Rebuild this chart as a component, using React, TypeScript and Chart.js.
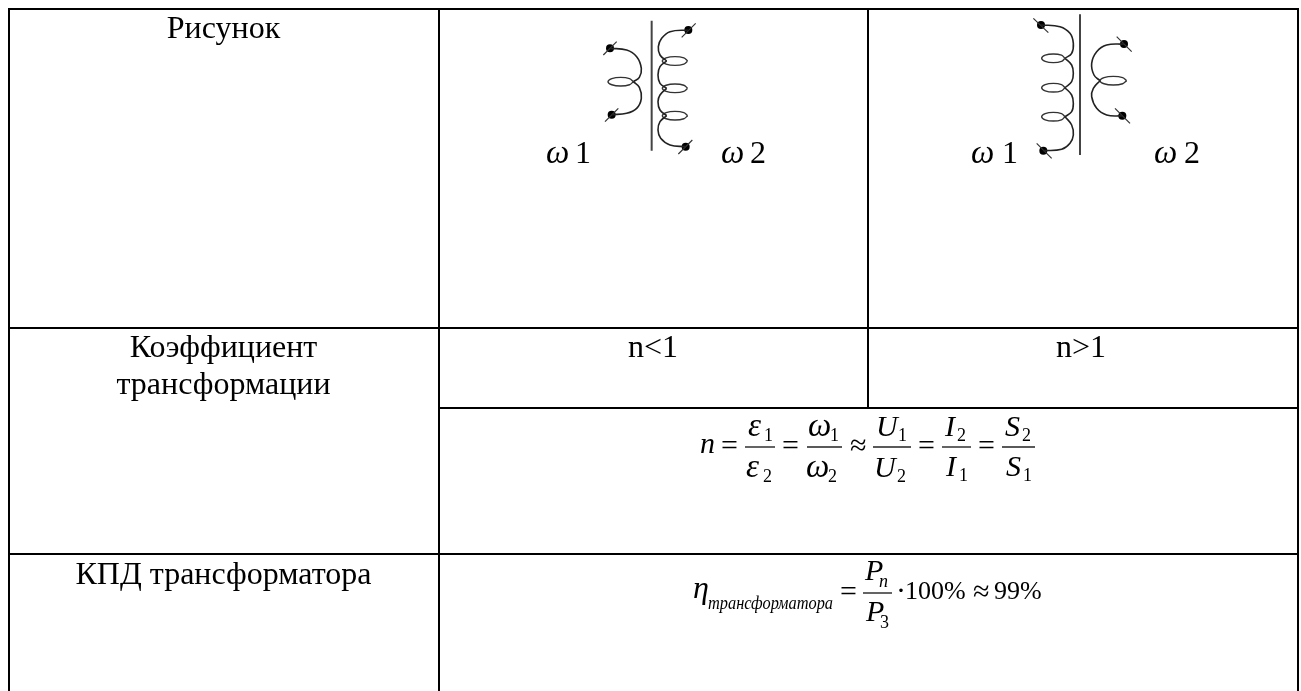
import React, { useEffect, useRef } from "react";
import { Chart, registerables } from "chart.js";

Chart.register(...registerables);

// ---- table rules, in sheet units -------------------------------------
const tableRules: number[][] = [
  [8, 9, 1299, 9],
  [8, 328, 1299, 328],
  [439, 408, 1299, 408],
  [8, 554, 1299, 554],
  [9, 8, 9, 691],
  [439, 9, 439, 691],
  [868, 9, 868, 408],
  [1298, 8, 1298, 691],
];
const fractionRules: number[][] = [
  [745, 447, 775, 447],
  [807, 447, 842, 447],
  [873, 447, 911, 447],
  [942, 447, 971, 447],
  [1002, 447, 1035, 447],
  [863, 593, 892, 593],
];

const windingAOrigin = [440, 0];
const windingBOrigin = [870, 0];
const coreA = [[635, 62], [635, 452]];
const coreB = [[630, 43], [630, 465]];
const arcsA = [
  [[510, 145], [560, 150], [590, 170], [604, 205], [598, 232], [580, 245]],
  [[580, 245], [598, 262], [604, 295], [590, 325], [560, 340], [515, 344]],
  [[745, 90], [690, 95], [665, 115], [655, 140], [660, 165], [680, 183]],
  [[680, 183], [660, 200], [654, 225], [660, 250], [680, 265]],
  [[680, 265], [660, 285], [654, 305], [660, 330], [680, 347]],
  [[680, 347], [660, 365], [654, 390], [662, 415], [690, 435], [737, 440]],
];
const arcsB = [
  [[513, 75], [570, 80], [600, 100], [610, 130], [605, 160], [585, 175]],
  [[585, 175], [605, 195], [610, 220], [605, 245], [585, 263]],
  [[585, 263], [605, 285], [610, 310], [605, 335], [585, 350]],
  [[585, 350], [605, 375], [610, 405], [600, 430], [575, 448], [520, 452]],
  [[762, 132], [710, 135], [680, 155], [665, 190], [672, 225], [690, 242]],
  [[690, 242], [670, 265], [665, 290], [680, 325], [710, 345], [757, 348]],
];
const loopCentresA = [[542, 245, 38], [705, 183, 38], [705, 265, 38], [705, 347, 38]];
const loopCentresB = [[550, 175, 35], [550, 263, 35], [550, 350, 35], [730, 242, 40]];
const loopShape = [[1, 0], [0.7, 0.72], [0, 1], [-0.7, 0.72], [-1, 0], [-0.7, -0.72], [0, -1], [0.7, -0.72], [1, 0]];
const terminalsA = [[510, 145], [515, 344], [745, 90], [737, 440]];
const terminalsB = [[513, 75], [520, 452], [762, 132], [757, 347]];
const leadsA = [[[490, 165], [530, 125]], [[495, 365], [535, 325]], [[725, 112], [767, 70]], [[715, 462], [757, 420]]];
const leadsB = [[[490, 55], [535, 98]], [[500, 430], [545, 475]], [[740, 110], [785, 155]], [[735, 325], [780, 370]]];

// ---- texts -------------------------------------------------------------
const SERIF = '"Liberation Serif", serif';
const F = `30px ${SERIF}`;
const FI = `italic 30px ${SERIF}`;
const SUB = `18px ${SERIF}`;
const W = `italic 33px ${SERIF}`;
const texts: [string, number, number, string, CanvasTextAlign?][] = [
  ["Рисунок", 223.5, 38, `32px ${SERIF}`, "center"],
  ["Коэффициент", 223.5, 357, `32px ${SERIF}`, "center"],
  ["трансформации", 223.5, 394, `32px ${SERIF}`, "center"],
  ["КПД трансформатора", 223.5, 584, `32px ${SERIF}`, "center"],
  ["n<1", 653, 357, `32px ${SERIF}`, "center"],
  ["n>1", 1081, 357, `32px ${SERIF}`, "center"],
  ["ω", 546, 163, W],
  ["1", 575, 163, `32px ${SERIF}`],
  ["ω", 721, 163, W],
  ["2", 750, 163, `32px ${SERIF}`],
  ["ω", 971, 163, W],
  ["1", 1002, 163, `32px ${SERIF}`],
  ["ω", 1154, 163, W],
  ["2", 1184, 163, `32px ${SERIF}`],
  ["n", 700, 453, FI],
  ["=", 721, 455, F],
  ["ε", 748, 436, W],
  ["1", 764, 441, SUB],
  ["ε", 746, 477, W],
  ["2", 763, 482, SUB],
  ["=", 782, 455, F],
  ["ω", 808, 436, W],
  ["1", 830, 441, SUB],
  ["ω", 806, 477, W],
  ["2", 828, 482, SUB],
  ["≈", 850, 455, F],
  ["U", 876, 436, FI],
  ["1", 898, 441, SUB],
  ["U", 874, 477, FI],
  ["2", 897, 482, SUB],
  ["=", 918, 455, F],
  ["I", 945, 436, FI],
  ["2", 957, 441, SUB],
  ["I", 946, 476, FI],
  ["1", 959, 481, SUB],
  ["=", 978, 455, F],
  ["S", 1005, 436, FI],
  ["2", 1022, 441, SUB],
  ["S", 1006, 476, FI],
  ["1", 1023, 481, SUB],
  ["η", 693, 598, `italic 32px ${SERIF}`],
  ["трансформатора", 708, 609, `italic 18px ${SERIF}`],
  ["=", 840, 601, F],
  ["P", 865, 580, FI],
  ["n", 879, 587, `italic 18px ${SERIF}`],
  ["P", 866, 621, FI],
  ["3", 880, 628, SUB],
  ["·", 896, 600, F],
  ["100%", 905, 599, `26px ${SERIF}`],
  ["≈", 973, 601, F],
  ["99%", 994, 599, `26px ${SERIF}`],
];
const subscriptWidth = 125;

const pt = (o: number[], p: number[]) => ({ x: o[0] + p[0] / 3, y: o[1] + p[1] / 3 });

function curveSets() {
  const sets: any[] = [];
  const addLine = (pts: { x: number; y: number }[], width: number, tension: number, color = "#111") =>
    sets.push({ data: pts, showLine: true, borderColor: color, borderWidth: width, tension, pointRadius: 0, fill: false });
  tableRules.forEach((r) => addLine([{ x: r[0], y: r[1] }, { x: r[2], y: r[3] }], 2, 0, "#000"));
  fractionRules.forEach((r) => addLine([{ x: r[0], y: r[1] }, { x: r[2], y: r[3] }], 1.4, 0, "#222"));
  ([[windingAOrigin, coreA, arcsA, loopCentresA, terminalsA, leadsA], [windingBOrigin, coreB, arcsB, loopCentresB, terminalsB, leadsB]] as any[]).forEach(
    ([o, core, arcs, loops, terminals, leads]) => {
      addLine(core.map((p: number[]) => pt(o, p)), 2, 0, "#444");
      arcs.forEach((a: number[][]) => addLine(a.map((p) => pt(o, p)), 1.6, 0.4, "#222"));
      loops.forEach((c: number[]) =>
        addLine(loopShape.map((s) => pt(o, [c[0] + s[0] * c[2], c[1] + s[1] * 13])), 1.4, 0.35, "#333")
      );
      leads.forEach((l: number[][]) => addLine(l.map((p) => pt(o, p)), 1.2, 0, "#333"));
      sets.push({ data: terminals.map((p: number[]) => pt(o, p)), showLine: false, pointRadius: 4, pointBackgroundColor: "#000", pointBorderWidth: 0 });
    }
  );
  return sets;
}

const textPlugin = {
  id: "sheetTexts",
  afterDatasetsDraw(chart: any) {
    const { ctx, scales } = chart;
    ctx.save();
    ctx.fillStyle = "#000";
    ctx.textBaseline = "alphabetic";
    texts.forEach(([t, x, y, font, align]) => {
      ctx.font = font;
      ctx.textAlign = align || "left";
      const px = scales.x.getPixelForValue(x);
      const py = scales.y.getPixelForValue(y);
      if (t === "трансформатора") ctx.fillText(t, px, py, subscriptWidth);
      else ctx.fillText(t, px, py);
    });
    ctx.restore();
  },
};

const background = {
  id: "paper",
  beforeDraw(chart: any) {
    chart.ctx.save();
    chart.ctx.fillStyle = "#fff";
    chart.ctx.fillRect(0, 0, chart.width, chart.height);
    chart.ctx.restore();
  },
};

export default function App() {
  const ref = useRef<HTMLCanvasElement>(null);
  useEffect(() => {
    const chart = new Chart(ref.current!, {
      type: "scatter",
      data: { datasets: curveSets() },
      options: {
        animation: false,
        responsive: false,
        layout: { padding: 0, autoPadding: false },
        plugins: { legend: { display: false }, tooltip: { enabled: false }, title: { display: false } },
        scales: {
          x: { type: "linear", min: 0, max: 1301, display: false },
          y: { type: "linear", min: 0, max: 691, reverse: true, display: false },
        },
      },
      plugins: [background, textPlugin],
    });
    return () => chart.destroy();
  }, []);
  return (
    <canvas
      ref={ref}
      width={1301}
      height={691}
      style={{ position: "fixed", left: 0, top: 0, width: 1301, height: 691, display: "block" }}
    />
  );
}
